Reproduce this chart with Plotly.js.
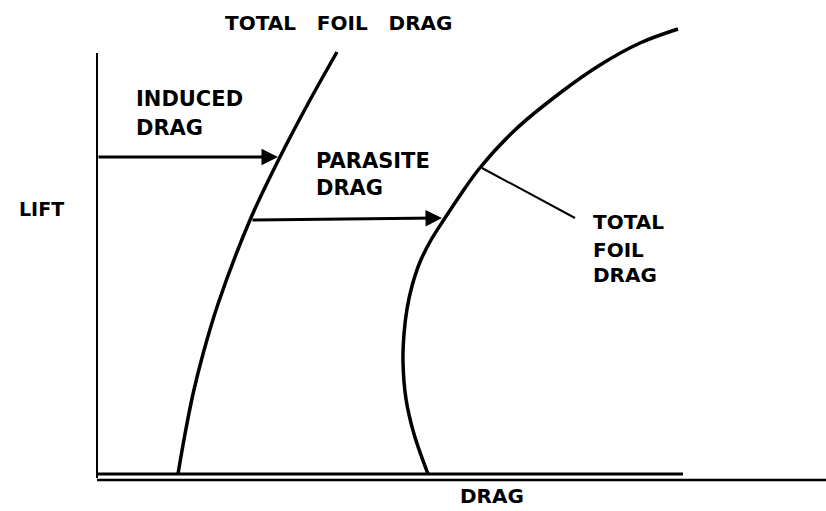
<!DOCTYPE html>
<html>
<head>
<meta charset="utf-8">
<script src="https://cdn.plot.ly/plotly-3.0.1.min.js"></script>
<style>html,body{margin:0;padding:0;background:#fff;}#chart{width:826px;height:511px;}</style>
</head>
<body>
<div id="chart"></div>
<script>
// Drag (x) and lift (y) readings, arbitrary units (axis origin = 0,0)
const inducedCurveDrag = [81, 88, 96, 106, 121, 153, 183, 213, 240];
const inducedCurveLift = [0, 40, 80, 120, 170, 254, 317, 374, 422];
const totalCurveDrag = [331, 317, 309, 306, 307, 310, 315, 323, 334, 348, 364, 382, 418, 463, 503, 543, 581];
const totalCurveLift = [0, 40, 75, 112, 140, 165, 188, 212, 234, 256, 280, 305, 344, 381, 409, 431, 445];
const inducedArrowDrag = [0, 183];
const inducedArrowLift = [317, 317];
const parasiteArrowDrag = [154, 347];
const parasiteArrowLift = [254, 256];
const leaderDrag = [385, 478];
const leaderLift = [306, 256];
const liftAxisDrag = [0, 0];
const liftAxisLift = [-4, 421];
const baseDrag = [0, 586];
const baseLift = [0, 0];
const lowerDrag = [0, 729];
const lowerLift = [-6, -6];

const labels = {
  title: 'TOTAL\u00a0\u00a0\u00a0FOIL\u00a0\u00a0\u00a0DRAG',
  induced: ['INDUCED', 'DRAG'],
  parasite: ['PARASITE', 'DRAG'],
  total: ['TOTAL', 'FOIL', 'DRAG'],
  lift: 'LIFT',
  drag: 'DRAG'
};

const blk = '#000';
const font = (s) => ({family: 'DejaVu Sans, Liberation Sans, Arial', size: s, color: blk, weight: 700});

function line(x, y, w, shape) {
  return {x: x, y: y, mode: 'lines', type: 'scatter', hoverinfo: 'skip', showlegend: false,
    line: {color: blk, width: w, shape: shape || 'linear', smoothing: 1}};
}

const data = [
  line(liftAxisDrag, liftAxisLift, 2),
  line(baseDrag, baseLift, 3),
  line(lowerDrag, lowerLift, 2.5),
  line(inducedCurveDrag, inducedCurveLift, 3.5, 'spline'),
  line(totalCurveDrag, totalCurveLift, 3.5, 'spline'),
  line(leaderDrag, leaderLift, 2),
];

function txt(x, y, t, s, xa) {
  return {x: x, y: y, xref: 'x', yref: 'y', text: t, showarrow: false, font: font(s),
    xanchor: xa || 'left', yanchor: 'middle'};
}
function arrow(xs, ys) {
  return {x: xs[1], y: ys[1], ax: xs[0], ay: ys[0], xref: 'x', yref: 'y', axref: 'x', ayref: 'y',
    text: '', showarrow: true, arrowhead: 2, arrowsize: 1.1, arrowwidth: 3, arrowcolor: blk, standoff: 2};
}

const annotations = [
  txt(241, 451, labels.title, 20, 'center'),
  txt(37, 375.5, labels.induced[0], 21),
  txt(37, 346, labels.induced[1], 21),
  txt(217, 313.5, labels.parasite[0], 21),
  txt(217, 286, labels.parasite[1], 21),
  txt(494, 252, labels.total[0], 20),
  txt(494, 224, labels.total[1], 20),
  txt(494, 199, labels.total[2], 20),
  txt(-56, 265, labels.lift, 19, 'center'),
  txt(395, -21.5, labels.drag, 20, 'center'),
  arrow(inducedArrowDrag, inducedArrowLift),
  arrow(parasiteArrowDrag, parasiteArrowLift),
];

const layout = {
  width: 826, height: 511,
  margin: {l: 0, r: 0, t: 0, b: 0, pad: 0},
  paper_bgcolor: '#fff', plot_bgcolor: '#fff',
  xaxis: {range: [-97, 729], visible: false, fixedrange: true},
  yaxis: {range: [-37, 474], visible: false, fixedrange: true},
  annotations: annotations,
  showlegend: false
};

Plotly.newPlot('chart', data, layout, {staticPlot: true, displayModeBar: false});
</script>
</body>
</html>
